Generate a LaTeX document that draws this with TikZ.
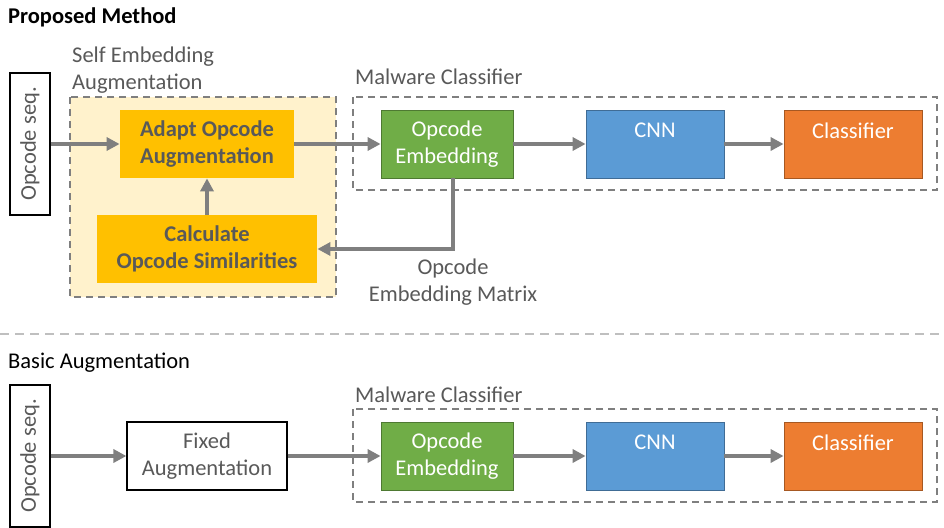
\documentclass[tikz,border=0pt]{standalone}
\usepackage{fontspec}
\setmainfont{Carlito}
\usetikzlibrary{arrows.meta}
\definecolor{txtgray}{HTML}{595959}
\definecolor{linegray}{HTML}{7F7F7F}
\definecolor{sepgray}{HTML}{BFBFBF}
\definecolor{gold}{HTML}{FFC000}
\definecolor{paleyellow}{HTML}{FFF2CC}
\definecolor{embgreen}{HTML}{70AD47}
\definecolor{cnnblue}{HTML}{5B9BD5}
\definecolor{clsorange}{HTML}{ED7D31}
\tikzset{
        every node/.style={font=\fontsize{22.5}{27}\selectfont},
        block/.style={rectangle, align=center, inner sep=0pt, minimum height=68pt, line width=0.8pt},
        seqbox/.style={block, draw=black, line width=1.2pt, text=txtgray, rotate=90, minimum width=142pt, minimum height=40pt},
        fixedbox/.style={block, draw=black, line width=1.2pt, fill=white, text=txtgray, minimum width=160pt},
        adaptbox/.style={block, fill=gold, text=txtgray, font=\fontsize{22.5}{27}\selectfont\bfseries},
        embbox/.style={block, draw=embgreen!70!black, fill=embgreen, text=white, minimum width=132pt},
        cnnbox/.style={block, draw=cnnblue!70!black, fill=cnnblue, text=white, minimum width=138pt},
        clsbox/.style={block, draw=clsorange!70!black, fill=clsorange, text=white, minimum width=138pt},
        groupbox/.style={draw=linegray, line width=1.2pt, dash pattern=on 7pt off 5pt},
        grouplabel/.style={text=txtgray, anchor=west, inner sep=0pt, align=left},
        title/.style={anchor=west, inner sep=0pt},
        arr/.style={draw=linegray, line width=4pt, -{Triangle[length=13pt, width=13pt]}}
          }
\begin{document}
\begin{tikzpicture}[x=1pt, y=-1pt]
        \useasboundingbox (0,0) rectangle (944,527);
        % proposed method
        \node[title, font=\fontsize{22.5}{27}\selectfont\bfseries] (ttlA) at (8,17) {Proposed Method};
        \draw[groupbox, fill=paleyellow] (70,97) rectangle (336,297);
        \node[grouplabel] (selfLbl) at (72,70) {Self Embedding\\Augmentation};
        \draw[groupbox] (353,97) rectangle (937,190);
        \node[grouplabel] (mcLblA) at (355,77) {Malware Classifier};
        \node[seqbox] (seqA) at (30,144) {Opcode seq.};
        \node[adaptbox, minimum width=174pt] (adapt) at (207,144) {Adapt Opcode\\Augmentation};
        \node[adaptbox, minimum width=220pt] (calc) at (207,249) {Calculate\\Opcode Similarities};
        \node[embbox] (embA) at (447,144) {Opcode\\Embedding};
        \node[cnnbox] (cnnA) at (655,144) {CNN\\\mbox{}};
        \node[clsbox] (clsA) at (853,144) {Classifier\\\mbox{}};
        \node[text=txtgray, align=center] (matLbl) at (453,282) {Opcode\\Embedding Matrix};
        \draw[arr] (seqA) -- (adapt);
        \draw[arr] (adapt) -- (embA);
        \draw[arr] (embA) -- (cnnA);
        \draw[arr] (cnnA) -- (clsA);
        \draw[arr] ([xshift=6pt]embA.south) |- (calc.east);
        \draw[arr] (calc) -- (adapt);
        % separator
        \draw[sepgray, line width=2pt, dash pattern=on 9pt off 6pt] (0,334) -- (944,334);
        % basic augmentation
        \node[title] (ttlB) at (8,363) {Basic Augmentation};
        \draw[groupbox] (353,409) rectangle (937,502);
        \node[grouplabel] (mcLblB) at (355,395) {Malware Classifier};
        \node[seqbox] (seqB) at (30,456) {Opcode seq.};
        \node[fixedbox] (fixed) at (207,456) {Fixed\\Augmentation};
        \node[embbox] (embB) at (447,456) {Opcode\\Embedding};
        \node[cnnbox] (cnnB) at (655,456) {CNN\\\mbox{}};
        \node[clsbox] (clsB) at (853,456) {Classifier\\\mbox{}};
        \draw[arr] (seqB) -- (fixed);
        \draw[arr] (fixed) -- (embB);
        \draw[arr] (embB) -- (cnnB);
        \draw[arr] (cnnB) -- (clsB);
      \end{tikzpicture}
\end{document}
